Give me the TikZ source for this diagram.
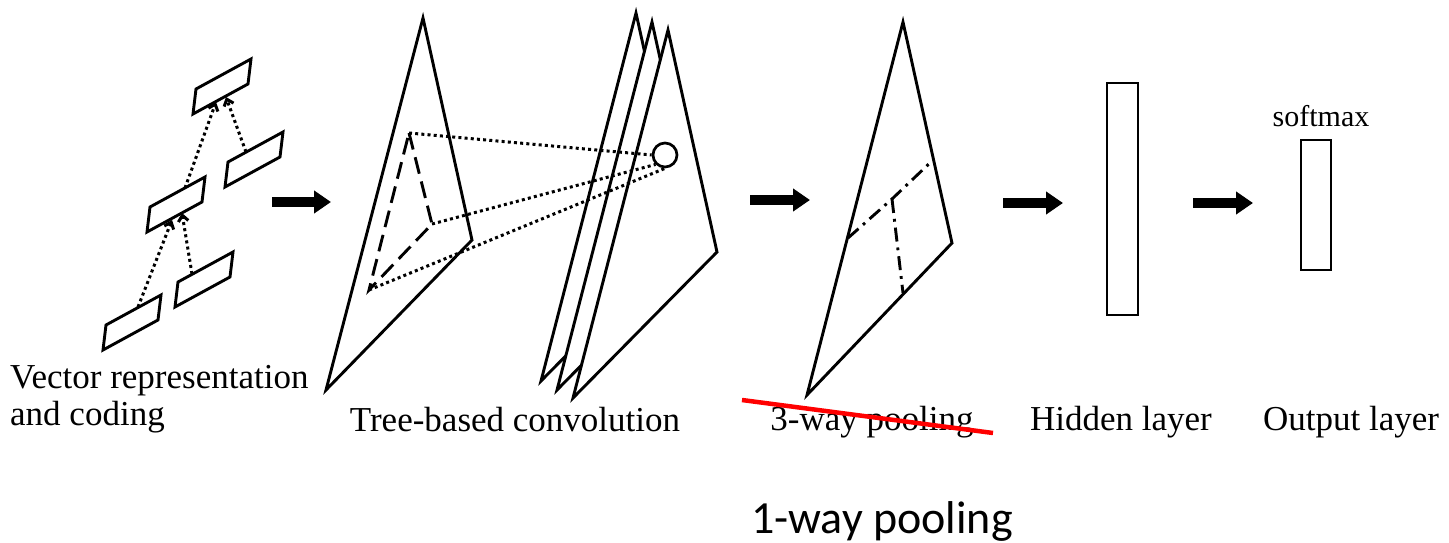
\documentclass[tikz,border=0pt]{standalone}
\usepackage{fontspec}
\setmainfont{Liberation Serif}
\newfontfamily\calibrifont{Carlito}
\usetikzlibrary{arrows.meta}
\begin{document}
\begin{tikzpicture}[x=1pt,y=-1pt,
  edge/.style={line width=2.9pt},
  dotline/.style={line width=3pt, dash pattern=on 3pt off 3.2pt},
  dashline/.style={line width=2.9pt, dash pattern=on 17pt off 8pt},
  dashdotline/.style={line width=2.9pt, dash pattern=on 14pt off 6pt on 2.8pt off 6pt},
  bigarrow/.style={line width=10pt, -{Triangle[length=17pt,width=22pt]}},
  smallhead/.style={-{Straight Barb[length=6pt,width=10pt]}},
  lbl/.style={font=\fontsize{35}{37}\selectfont, inner sep=0pt},
  parabox/.style={edge},
]
\useasboundingbox (0,0) rectangle (1449,543);

% ---------- tree of vectors ----------
\coordinate (p1) at (103,350);
\coordinate (p2) at (175,307);
\coordinate (p3) at (147,232);
\coordinate (p4) at (225,187);
\coordinate (p5) at (193,114);
\foreach \p in {p1,p2,p3,p4,p5}{
  \draw[parabox] (\p) -- ++(3,-25) -- ++(55,-30) -- ++(-3,25) -- cycle;
}
\coordinate (e1s) at (138,307);
\coordinate (e1e) at (172,220);
\coordinate (e2s) at (192,274);
\coordinate (e2e) at (182,213);
\coordinate (e3s) at (185,188);
\coordinate (e3e) at (216,102);
\coordinate (e4s) at (246,152);
\coordinate (e4e) at (226,97);
\draw[dotline,smallhead] (e1s) -- (e1e);
\draw[dotline,smallhead] (e2s) -- (e2e);
\draw[dotline,smallhead] (e3s) -- (e3e);
\draw[dotline,smallhead] (e4s) -- (e4e);

% ---------- convolution input triangle ----------
\coordinate (ca) at (423,18);
\coordinate (cr) at (472,240);
\coordinate (cb) at (326,390);
\draw[edge] (ca) -- (cr) -- (cb) -- cycle;
\coordinate (da) at (409,133);
\coordinate (dr) at (432,224);
\coordinate (db) at (369,290);
\draw[dashline] (da) -- (dr) -- (db) -- cycle;

% ---------- stacked feature triangles ----------
\foreach \dx/\dy in {-32/-17,-16/-8,0/0}{
  \draw[edge,fill=white] (668+\dx,30+\dy) -- (717+\dx,252+\dy) -- (573+\dx,398+\dy) -- cycle;
}
\node[draw,circle,line width=2.7pt,minimum size=24pt,inner sep=0pt] (circ) at (665,155) {};
\draw[dotline] (da) -- (circ.west);
\draw[dotline] (dr) -- (circ.south west);
\draw[dotline] (db) -- (circ.south);

% ---------- pooling triangle ----------
\coordinate (qa) at (903,22);
\coordinate (qr) at (952,243);
\coordinate (qb) at (807,395);
\draw[edge] (qa) -- (qr) -- (qb) -- cycle;
\coordinate (ql) at (848,238);
\coordinate (qm) at (892,199);
\coordinate (qt) at (933,160);
\coordinate (qd) at (903,293);
\draw[dashdotline] (ql) -- (qm) -- (qt);
\draw[dashdotline] (qm) -- (qd);

% ---------- layers ----------
\node[draw,line width=2.9pt,minimum width=31pt,minimum height=232pt,inner sep=0pt] (hid) at (1122.5,199) {};
\node[draw,line width=2.9pt,minimum width=30pt,minimum height=130pt,inner sep=0pt] (outl) at (1316,205) {};

% ---------- big arrows ----------
\coordinate (a1s) at (272,202); \coordinate (a1e) at (331,202);
\coordinate (a2s) at (750,200); \coordinate (a2e) at (810,200);
\coordinate (a3s) at (1003,203); \coordinate (a3e) at (1063,203);
\coordinate (a4s) at (1193,203); \coordinate (a4e) at (1253,203);
\draw[bigarrow] (a1s) -- (a1e);
\draw[bigarrow] (a2s) -- (a2e);
\draw[bigarrow] (a3s) -- (a3e);
\draw[bigarrow] (a4s) -- (a4e);

% ---------- labels ----------
\node[lbl,anchor=base west] (t1) at (10,388) {Vector representation};
\node[lbl,anchor=base west] (t1b) at (10,425) {and coding};
\node[lbl,anchor=base] (t2) at (515,431) {Tree-based convolution};
\node[lbl,anchor=base] (t3) at (872,430) {3-way pooling};
\node[lbl,anchor=base] (t4) at (1121,430) {Hidden layer};
\node[lbl,anchor=base] (t5) at (1351,430) {Output layer};
\node[inner sep=0pt,anchor=base,font=\fontsize{30}{32}\selectfont] (sm) at (1321,126) {softmax};

\coordinate (rs) at (742,400);
\coordinate (re) at (993,433);
\draw[red,line width=4.5pt] (rs) -- (re);

\node[inner sep=0pt,anchor=base,font=\calibrifont\fontsize{46}{48}\selectfont] (t6) at (882,533) {1-way pooling};
\end{tikzpicture}
\end{document}
